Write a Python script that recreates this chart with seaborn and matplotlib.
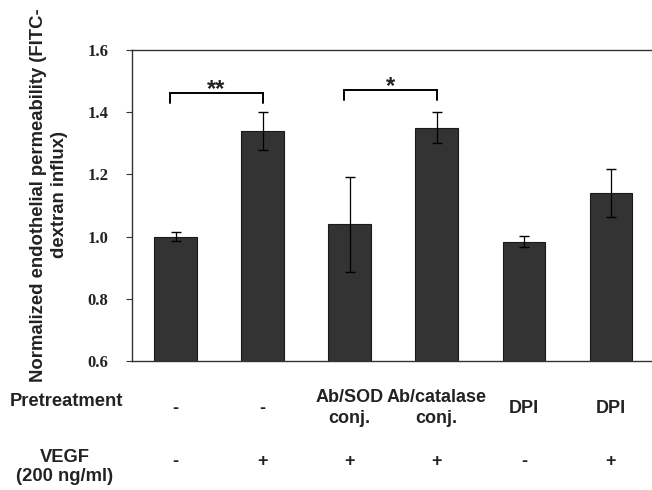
import matplotlib
matplotlib.use("Agg")
import matplotlib.pyplot as plt
import matplotlib.transforms as mtransforms
import seaborn as sns
import pandas as pd

# ---- data ----
groups = ["g1", "g2", "g3", "g4", "g5", "g6"]
pretreatment = ["-", "-", "Ab/SOD\nconj.", "Ab/catalase\nconj.", "DPI", "DPI"]
vegf = ["-", "+", "+", "+", "-", "+"]
values = [1.00, 1.34, 1.04, 1.35, 0.983, 1.14]
errors = [0.015, 0.062, 0.153, 0.05, 0.018, 0.076]
yticks = [0.6, 0.8, 1.0, 1.2, 1.4, 1.6]
sig_pairs = [(0, 1, "**"), (2, 3, "*")]
sig_heights = [1.462, 1.471]

sns.set_theme(style="white")
plt.rcParams["font.family"] = ["Liberation Sans", "DejaVu Sans"]

df = pd.DataFrame({"group": groups, "value": values})

fig = plt.figure(figsize=(6.52, 4.9), dpi=100)
ax = fig.add_axes([132 / 652, 1 - 361 / 490, (654.5 - 132) / 652, (361 - 50) / 490])

sns.barplot(data=df, x="group", y="value", color="#333333", saturation=1,
            width=0.49, edgecolor="#1a1a1a", linewidth=0.8, errorbar=None, ax=ax)

# error bars from bar positions
xs = [p.get_x() + p.get_width() / 2 for p in ax.patches]
ax.errorbar(xs, values, yerr=errors, fmt="none", ecolor="black",
            elinewidth=0.9, capsize=3.5, capthick=1.0, zorder=5)

ax.set_ylim(0.6, 1.6)
ax.set_xlim(-0.5, 5.5)
ax.set_yticks(yticks)
ax.set_yticklabels([f"{t:.1f}" for t in yticks], fontfamily="Liberation Serif",
                   fontweight="bold", fontsize=12, color="#222222")
ax.tick_params(axis="y", direction="out", length=4, width=0.8, pad=13, left=True, color="#333333")
ax.set_xticks([])
ax.set_xlabel("")
ax.set_ylabel("")
for s in ax.spines.values():
    s.set_visible(True)
    s.set_color("#333333")
    s.set_linewidth(1.0)

# significance brackets
for (i, j, lab), h in zip(sig_pairs, sig_heights):
    x1, x2 = xs[i] - 0.06, xs[j]
    ax.plot([x1, x1, x2, x2], [h - 0.032, h, h, h - 0.032], color="black", lw=1.4,
            solid_joinstyle="miter", clip_on=False)
    ax.text((x1 + x2) / 2, h - 0.025, lab, ha="center", va="bottom", fontsize=17,
            fontweight="bold", color="#222222")

# y label
fig.text(49 / 652, 1 - 195 / 490,
         "Normalized endothelial permeability (FITC-\ndextran influx)",
         rotation=90, ha="center", va="center", fontsize=13.3, fontweight="bold",
         color="#222222", linespacing=1.3)

# category rows
trans = mtransforms.blended_transform_factory(ax.transData, fig.transFigure)
for x, p, v in zip(xs, pretreatment, vegf):
    ax.text(x, 1 - 408 / 490, p, transform=trans, ha="center", va="center",
            fontsize=13, fontweight="bold", color="#222222", linespacing=1.25)
    ax.text(x, 1 - 461 / 490, v, transform=trans, ha="center", va="center",
            fontsize=13, fontweight="bold", color="#222222")

fig.text(66 / 652, 1 - 402 / 490, "Pretreatment", ha="center", va="center",
         fontsize=13.2, fontweight="bold", color="#222222")
fig.text(65 / 652, 1 - 467 / 490, "VEGF\n(200 ng/ml)", ha="center", va="center",
         fontsize=13.2, fontweight="bold", color="#222222", linespacing=1.2)

fig.savefig("out.png", dpi=100)
